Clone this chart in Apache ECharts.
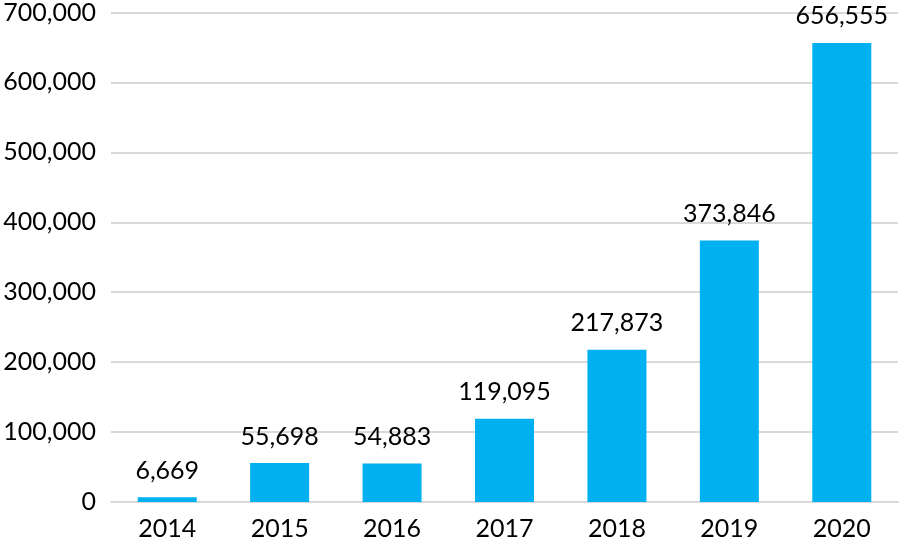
<!DOCTYPE html>
<html><head><meta charset="utf-8">
<script src="https://cdn.jsdelivr.net/npm/echarts@6/dist/echarts.min.js"></script>
<style>html,body{margin:0;padding:0;background:#fff}#c{width:904px;height:544px}</style>
</head><body><div id="c"></div>
<script>
const categories = ['2014','2015','2016','2017','2018','2019','2020'];
const values = [6669, 55698, 54883, 119095, 217873, 373846, 656555];
const yTicks = [0, 100000, 200000, 300000, 400000, 500000, 600000, 700000];

const FONT = 'Lato';
const fmt = v => v.toLocaleString('en-US');
const chart = echarts.init(document.getElementById('c'), null, {renderer:'canvas'});
chart.setOption({
  animation:false,
  grid:{left:111, right:6, top:12, bottom:42, containLabel:false},
  xAxis:{type:'category', data:categories,
    axisLine:{lineStyle:{color:'#d9d9d9', width:2}}, axisTick:{show:false},
    axisLabel:{color:'#000', fontFamily:FONT, fontSize:25, margin:14}},
  yAxis:{type:'value', min:yTicks[0], max:yTicks[yTicks.length-1], interval:100000,
    axisLine:{show:false}, axisTick:{show:false},
    splitLine:{lineStyle:{color:'#d9d9d9', width:2}},
    axisLabel:{color:'#000', fontFamily:FONT, fontSize:25, margin:15, formatter:v=>fmt(v)}},
  series:[{type:'bar', data:values, barWidth:59, itemStyle:{color:'#00B0F0'},
    label:{show:true, position:'top', distance:14, color:'#000', fontFamily:FONT, fontSize:25, formatter:p=>fmt(p.value)}}]
});
</script></body></html>
